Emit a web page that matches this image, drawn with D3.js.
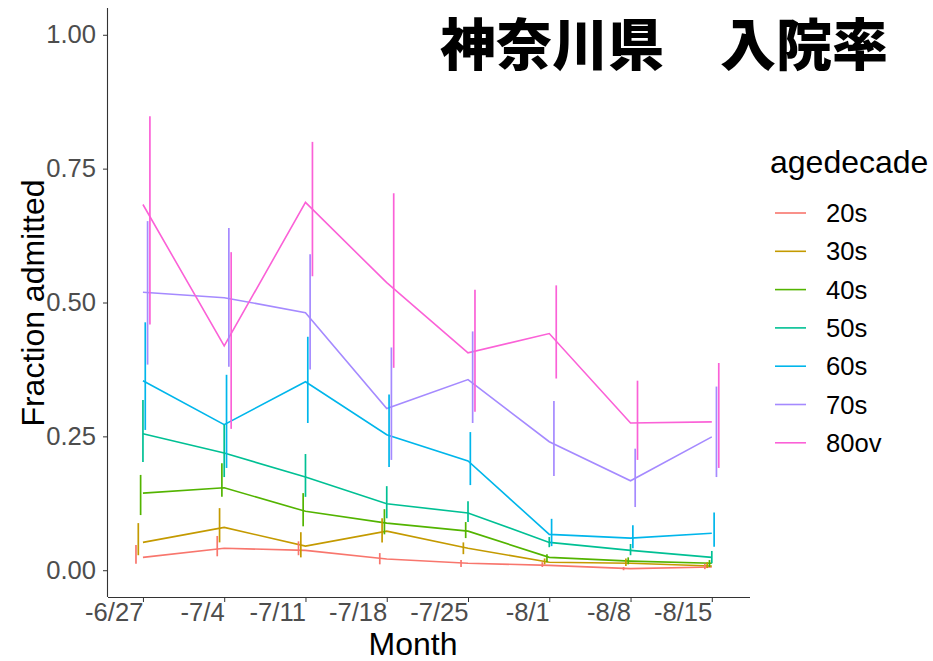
<!DOCTYPE html>
<html><head><meta charset="utf-8">
<script src="https://cdn.jsdelivr.net/npm/d3@7"></script>
<style>
html,body{margin:0;padding:0;background:#fff;}
text{font-family:"Liberation Sans",Arial,sans-serif;}
</style></head>
<body><svg id="c" width="933" height="661"></svg>
<script>
const weeks = ["-6/27","-7/4","-7/11","-7/18","-7/25","-8/1","-8/8","-8/15"];
const groups = ["20s","30s","40s","50s","60s","70s","80ov"];
const colors = ["#F8766D","#C49A00","#53B400","#00C094","#00B6EB","#A58AFF","#FB61D7"];
const yTicks = [0, 0.25, 0.5, 0.75, 1.0];

const v20 = [0.024,0.041,0.037,0.021,0.013,0.009,0.003,0.006];
const lo20 = [0.012,0.026,0.028,0.011,0.006,0.006,0.000,0.002];
const hi20 = [0.047,0.064,0.054,0.032,0.019,0.015,0.006,0.012];

const v30 = [0.052,0.080,0.045,0.073,0.041,0.015,0.013,0.008];
const lo30 = [0.028,0.052,0.024,0.052,0.030,0.011,0.008,0.004];
const hi30 = [0.088,0.116,0.071,0.097,0.052,0.022,0.022,0.015];

const v40 = [0.144,0.154,0.110,0.088,0.073,0.024,0.017,0.013];
const lo40 = [0.103,0.137,0.082,0.067,0.060,0.015,0.011,0.006];
const hi40 = [0.178,0.200,0.144,0.114,0.090,0.030,0.024,0.019];

const v50 = [0.255,0.219,0.174,0.124,0.107,0.052,0.037,0.024];
const lo50 = [0.202,0.174,0.137,0.097,0.090,0.043,0.028,0.013];
const hi50 = [0.318,0.272,0.217,0.157,0.129,0.062,0.049,0.036];

const v60 = [0.354,0.272,0.352,0.253,0.204,0.067,0.060,0.069];
const lo60 = [0.262,0.191,0.275,0.193,0.159,0.045,0.041,0.044];
const hi60 = [0.463,0.365,0.436,0.328,0.258,0.096,0.084,0.108];

const v70 = [0.519,0.509,0.481,0.302,0.356,0.240,0.167,0.249];
const lo70 = [0.384,0.380,0.375,0.206,0.275,0.176,0.118,0.174];
const hi70 = [0.652,0.639,0.590,0.416,0.446,0.316,0.227,0.343];

const v80 = [0.683,0.419,0.687,0.537,0.406,0.442,0.275,0.277];
const lo80 = [0.459,0.264,0.549,0.378,0.296,0.358,0.206,0.191];
const hi80 = [0.848,0.594,0.800,0.704,0.524,0.532,0.354,0.387];

const series = [
  {name:"20s", v:v20, lo:lo20, hi:hi20},
  {name:"30s", v:v30, lo:lo30, hi:hi30},
  {name:"40s", v:v40, lo:lo40, hi:hi40},
  {name:"50s", v:v50, lo:lo50, hi:hi50},
  {name:"60s", v:v60, lo:lo60, hi:hi60},
  {name:"70s", v:v70, lo:lo70, hi:hi70},
  {name:"80ov", v:v80, lo:lo80, hi:hi80}
];

const svg = d3.select("#c");
const L = 108, R = 750, T = 8, B = 597;
const x = d3.scaleLinear().domain([-0.43, 7.47]).range([L, R]);
const y = d3.scaleLinear().domain([-0.05, 1.05]).range([B, T]);
const color = d3.scaleOrdinal().domain(groups).range(colors);
const dodge = 0.2 / 7;

// lines
const line = d3.line().x((d,i)=>x(i)).y(d=>y(d));
series.forEach(s=>{
  svg.append("path").datum(s.v).attr("d", line)
    .attr("fill","none").attr("stroke", color(s.name)).attr("stroke-width",1.6);
});
// error bars
series.forEach((s,k)=>{
  const off = (k - 3) * dodge;
  svg.append("g").selectAll("line").data(s.v).join("line")
    .attr("x1",(d,i)=>x(i+off)).attr("x2",(d,i)=>x(i+off))
    .attr("y1",(d,i)=>y(s.lo[i])).attr("y2",(d,i)=>y(s.hi[i]))
    .attr("stroke", color(s.name)).attr("stroke-width",1.7);
});

// axes
const xAxis = d3.axisBottom(x).tickValues(d3.range(weeks.length))
  .tickFormat(i=>weeks[i]).tickSize(5).tickSizeOuter(0);
const gx = svg.append("g").attr("transform",`translate(0,${B})`).call(xAxis);
gx.select(".domain").attr("d",`M${L},0.5H${R}`).attr("stroke","#333").attr("stroke-width",1.1);
gx.selectAll(".tick line").attr("stroke","#333");
gx.selectAll(".tick text").attr("font-size",25.6).attr("fill","#4D4D4D")
  .attr("text-anchor","end").attr("x",0).attr("y",24).attr("dy",0);

const yAxis = d3.axisLeft(y).tickValues(yTicks).tickFormat(d3.format(".2f")).tickSize(5).tickSizeOuter(0);
const gy = svg.append("g").attr("transform",`translate(${L},0)`).call(yAxis);
gy.select(".domain").attr("d",`M-0.5,${T}V${B}`).attr("stroke","#333").attr("stroke-width",1.1);
gy.selectAll(".tick line").attr("stroke","#333");
gy.selectAll(".tick text").attr("font-size",25.6).attr("fill","#4D4D4D").attr("x",-12);

// axis titles
svg.append("text").attr("x",413).attr("y",655).attr("text-anchor","middle")
  .attr("font-size",32).attr("fill","#000").text("Month");
svg.append("text").attr("transform","translate(44,303) rotate(-90)").attr("text-anchor","middle")
  .attr("font-size",32).attr("fill","#000").text("Fraction admitted");

// title
svg.append("text").attr("x",440).attr("y",65)
  .style("font-family","'Noto Sans CJK JP','Noto Sans CJK SC',sans-serif")
  .attr("font-weight",900).attr("font-size",56).attr("fill","#000").text("神奈川県　入院率");

// legend
const lg = svg.append("g");
lg.append("text").attr("x",770).attr("y",173).attr("font-size",32).attr("fill","#000").text("agedecade");
groups.forEach((g,i)=>{
  const cy = 213 + i*38.3;
  lg.append("line").attr("x1",775).attr("x2",806).attr("y1",cy).attr("y2",cy)
    .attr("stroke",color(g)).attr("stroke-width",1.6);
  lg.append("text").attr("x",826).attr("y",cy+9).attr("font-size",25.6).attr("fill","#000").text(g);
});
</script></body></html>
